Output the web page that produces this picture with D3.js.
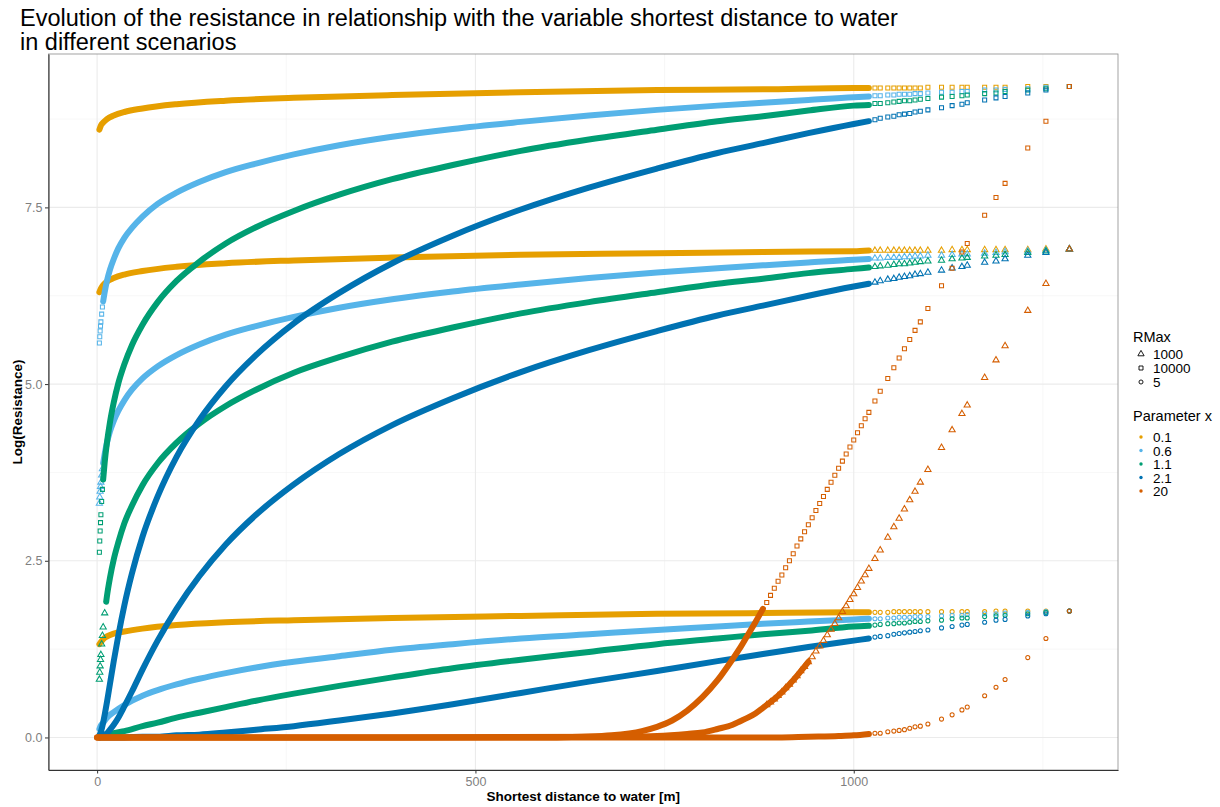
<!DOCTYPE html>
<html>
<head>
<meta charset="utf-8">
<script src="https://cdn.jsdelivr.net/npm/d3@7"></script>
<style>
  body { margin: 0; background: #ffffff; }
  text { font-family: "Liberation Sans", Arial, sans-serif; }
</style>
</head>
<body>
<svg id="chart" width="1220" height="807"></svg>
<script>
// ---- factor levels and tick labels ----
const rmaxLevels = ["1000", "10000", "5"];
const paramLevels = ["0.1", "0.6", "1.1", "2.1", "20"];
const paramColors = ["#E69F00", "#56B4E9", "#009E73", "#0072B2", "#D55E00"];
const xMajor = [0, 500, 1000];
const xMinor = [250, 750, 1250];
const yMajor = [0, 2.5, 5, 7.5];
const yMinor = [1.25, 3.75, 6.25, 8.75];

// Distances (m) where the measured points thin out into separate columns
const columnDist = [1028, 1035, 1045, 1053, 1060, 1067, 1074, 1081, 1088, 1098, 1116, 1130, 1143, 1150, 1173, 1188, 1200, 1230, 1254, 1285];
// Distances (m) along the steep rise of the x = 20 curves
const riseDist = [885, 890, 895, 900, 905, 910, 915, 920, 925, 930, 935, 940, 945, 950, 955, 960, 965, 970, 975, 980, 985, 990, 995, 1000, 1005, 1010, 1015, 1020];

// ---- dense runs of overlapping points: [distance, log(resistance)] ----
const band_1000_x01 = [[3,6.30],[5,6.35],[8,6.40],[13,6.45],[22,6.50],[36,6.55],[60,6.60],[105,6.66],[170,6.71],[260,6.75],[390,6.79],[560,6.83],[740,6.85],[880,6.87],[1000,6.88],[1020,6.89]];
const band_10000_x01 = [[3,8.60],[5,8.66],[8,8.70],[13,8.75],[22,8.80],[36,8.85],[60,8.90],[105,8.96],[170,9.01],[260,9.05],[390,9.09],[560,9.13],[740,9.16],[880,9.17],[1000,9.19],[1020,9.19]];
const band_5_x01 = [[3,1.32],[5,1.35],[8,1.39],[13,1.43],[22,1.47],[36,1.50],[60,1.54],[105,1.59],[170,1.63],[260,1.66],[390,1.69],[560,1.72],[740,1.75],[880,1.76],[1000,1.77],[1020,1.77]];

const band_1000_x06 = [[8,3.88],[10,4.01],[13,4.17],[17,4.33],[22,4.48],[28,4.62],[36,4.77],[46,4.92],[60,5.08],[80,5.25],[105,5.41],[135,5.56],[170,5.70],[210,5.82],[260,5.95],[320,6.08],[390,6.20],[470,6.31],[560,6.41],[650,6.50],[740,6.58],[820,6.64],[880,6.68],[940,6.72],[1000,6.76],[1020,6.77]];
const band_10000_x06 = [[8,6.17],[10,6.30],[13,6.46],[17,6.62],[22,6.77],[28,6.92],[36,7.07],[46,7.21],[60,7.37],[80,7.55],[105,7.71],[135,7.86],[170,8.00],[210,8.12],[260,8.25],[320,8.38],[390,8.50],[470,8.61],[560,8.71],[650,8.80],[740,8.88],[820,8.94],[880,8.98],[940,9.02],[1000,9.06],[1020,9.07]];
const band_5_x06 = [[3,0.12],[5,0.17],[8,0.21],[13,0.28],[22,0.36],[36,0.46],[60,0.59],[80,0.67],[105,0.75],[135,0.83],[170,0.91],[210,0.99],[260,1.07],[320,1.15],[390,1.24],[470,1.32],[560,1.40],[650,1.46],[740,1.52],[820,1.57],[880,1.61],[940,1.64],[1000,1.67],[1020,1.68]];

const band_1000_x11 = [[12,1.92],[13,2.00],[17,2.26],[22,2.52],[28,2.76],[36,3.03],[46,3.28],[60,3.57],[80,3.88],[105,4.17],[135,4.44],[170,4.69],[210,4.92],[260,5.16],[320,5.38],[390,5.60],[470,5.80],[560,6.00],[650,6.16],[740,6.30],[820,6.42],[880,6.49],[940,6.57],[1000,6.63],[1020,6.65]];
const band_10000_x11 = [[8,3.65],[10,3.89],[13,4.17],[17,4.46],[22,4.74],[28,5.01],[36,5.28],[46,5.55],[60,5.84],[80,6.16],[105,6.46],[135,6.73],[170,6.99],[210,7.22],[260,7.45],[320,7.68],[390,7.90],[470,8.10],[560,8.30],[650,8.46],[740,8.60],[820,8.72],[880,8.79],[940,8.87],[1000,8.94],[1020,8.95]];
const band_5_x11 = [[3,0.01],[8,0.02],[13,0.03],[22,0.06],[36,0.09],[60,0.16],[80,0.21],[105,0.28],[135,0.35],[170,0.43],[210,0.52],[260,0.62],[320,0.73],[390,0.85],[470,0.98],[560,1.10],[650,1.21],[740,1.32],[820,1.40],[880,1.46],[940,1.51],[1000,1.57],[1020,1.58]];

const band_1000_x21 = [[3,0.00],[5,0.01],[8,0.02],[10,0.04],[13,0.06],[17,0.11],[22,0.18],[28,0.28],[36,0.44],[46,0.65],[60,0.96],[80,1.37],[105,1.82],[135,2.28],[170,2.73],[210,3.15],[260,3.58],[320,4.01],[390,4.42],[470,4.80],[560,5.17],[650,5.48],[740,5.75],[820,5.97],[880,6.11],[940,6.25],[1000,6.38],[1020,6.42]];
const band_10000_x21 = [[3,0.03],[5,0.08],[8,0.21],[10,0.32],[13,0.50],[17,0.76],[22,1.08],[28,1.44],[36,1.87],[46,2.32],[60,2.84],[80,3.41],[105,3.97],[135,4.49],[170,4.97],[210,5.41],[260,5.86],[320,6.29],[390,6.71],[470,7.10],[560,7.47],[650,7.78],[740,8.05],[820,8.27],[880,8.41],[940,8.55],[1000,8.68],[1020,8.72]];
const band_5_x21 = [[3,0.00],[36,0.00],[60,0.01],[80,0.01],[105,0.03],[135,0.04],[170,0.07],[210,0.11],[260,0.16],[320,0.24],[390,0.34],[470,0.47],[560,0.63],[650,0.79],[740,0.94],[820,1.08],[880,1.18],[940,1.28],[1000,1.37],[1020,1.40]];

const band_1000_x20 = [[0,0],[400,0],[700,0.01],[740,0.02],[780,0.05],[800,0.07],[820,0.12],[840,0.18],[850,0.23],[860,0.28],[870,0.34],[880,0.42],[900,0.59],[920,0.81],[940,1.07]];
const band_10000_x20 = [[0,0],[400,0],[600,0],[640,0.01],[680,0.03],[720,0.09],[740,0.15],[760,0.24],[780,0.38],[800,0.57],[820,0.81],[840,1.11],[850,1.27],[860,1.45],[870,1.63],[880,1.82]];
const band_5_x20 = [[0,0],[400,0],[800,0],[900,0],[940,0.01],[980,0.02],[1000,0.03],[1020,0.05]];

// ---- isolated points close to the water: [distance, log(resistance)] ----
const lead_10000_x06 = [[3,5.58],[3.5,5.67],[4,5.75],[4.5,5.82],[5,5.88],[6,5.99],[7,6.09]];
const lead_1000_x06 = [[3,3.31],[3.5,3.40],[4,3.48],[4.5,3.55],[5,3.61],[6,3.71],[7,3.80]];
const lead_10000_x11 = [[3,2.62],[3.5,2.78],[4,2.92],[4.5,3.04],[5,3.15],[6,3.34],[7,3.51]];
const lead_1000_x11 = [[3,0.82],[3.5,0.92],[4,1.01],[4.5,1.10],[5,1.17],[6,1.32],[7,1.44],[8,1.56],[10,1.76]];

// ---- log(resistance) at columnDist ----
const col_1000_x01 = [6.89,6.89,6.89,6.89,6.89,6.89,6.89,6.89,6.89,6.89,6.89,6.90,6.90,6.90,6.90,6.90,6.90,6.90,6.91,6.91];
const col_10000_x01 = [9.19,9.19,9.19,9.19,9.19,9.19,9.19,9.19,9.19,9.20,9.20,9.20,9.20,9.20,9.20,9.20,9.20,9.21,9.21,9.21];
const col_5_x01 = [1.77,1.77,1.77,1.78,1.78,1.78,1.78,1.78,1.78,1.78,1.78,1.78,1.78,1.78,1.78,1.79,1.79,1.79,1.79,1.79];
const col_1000_x06 = [6.78,6.78,6.79,6.79,6.79,6.80,6.80,6.81,6.81,6.82,6.82,6.83,6.84,6.84,6.85,6.86,6.87,6.88,6.89,6.91];
const col_10000_x06 = [9.08,9.08,9.09,9.09,9.10,9.10,9.10,9.11,9.11,9.12,9.13,9.13,9.14,9.14,9.16,9.16,9.17,9.18,9.20,9.21];
const col_5_x06 = [1.68,1.68,1.69,1.69,1.70,1.70,1.70,1.71,1.71,1.71,1.72,1.73,1.73,1.74,1.75,1.75,1.76,1.77,1.78,1.79];
const col_1000_x11 = [6.66,6.67,6.68,6.69,6.70,6.70,6.71,6.72,6.73,6.74,6.75,6.77,6.78,6.79,6.81,6.82,6.83,6.86,6.88,6.91];
const col_10000_x11 = [8.97,8.97,8.98,8.99,9.00,9.01,9.01,9.02,9.03,9.04,9.06,9.07,9.08,9.09,9.11,9.12,9.14,9.16,9.18,9.21];
const col_5_x11 = [1.59,1.60,1.61,1.61,1.62,1.62,1.63,1.64,1.64,1.65,1.66,1.68,1.69,1.69,1.71,1.72,1.73,1.75,1.77,1.79];
const col_1000_x21 = [6.44,6.46,6.48,6.49,6.51,6.52,6.53,6.55,6.56,6.58,6.61,6.64,6.66,6.68,6.72,6.74,6.77,6.82,6.86,6.91];
const col_10000_x21 = [8.74,8.76,8.78,8.79,8.81,8.82,8.83,8.85,8.86,8.88,8.91,8.94,8.96,8.98,9.02,9.05,9.07,9.12,9.16,9.21];
const col_5_x21 = [1.42,1.43,1.44,1.46,1.47,1.48,1.49,1.50,1.51,1.52,1.55,1.57,1.59,1.60,1.63,1.66,1.67,1.72,1.75,1.79];
const col_1000_x20 = [2.53,2.65,2.83,2.98,3.10,3.23,3.36,3.48,3.61,3.79,4.10,4.35,4.58,4.70,5.09,5.34,5.54,6.04,6.42,6.91];
const col_10000_x20 = [4.76,4.90,5.08,5.23,5.37,5.50,5.63,5.76,5.88,6.07,6.39,6.64,6.87,6.99,7.39,7.64,7.84,8.34,8.72,9.21];
const col_5_x20 = [0.06,0.06,0.08,0.09,0.10,0.11,0.13,0.15,0.16,0.19,0.26,0.32,0.39,0.43,0.59,0.71,0.82,1.13,1.40,1.79];

// ---- log(resistance) at riseDist ----
const rise_1000_x20 = [0.46,0.50,0.54,0.59,0.64,0.70,0.75,0.81,0.87,0.94,1.00,1.07,1.14,1.22,1.29,1.37,1.45,1.53,1.61,1.69,1.78,1.86,1.95,2.03,2.12,2.21,2.30,2.39];
const rise_10000_x20 = [1.91,2.01,2.11,2.21,2.30,2.40,2.50,2.60,2.71,2.81,2.91,3.01,3.11,3.21,3.31,3.41,3.51,3.61,3.71,3.81,3.91,4.01,4.11,4.21,4.31,4.41,4.51,4.60];

// scenario table, drawn in this order (later ones on top)
const scenarios = [
  { x: "0.1", rmax: "1000",  band: band_1000_x01,  col: col_1000_x01 },
  { x: "0.1", rmax: "10000", band: band_10000_x01, col: col_10000_x01 },
  { x: "0.1", rmax: "5",     band: band_5_x01,     col: col_5_x01 },
  { x: "0.6", rmax: "1000",  band: band_1000_x06,  col: col_1000_x06, lead: lead_1000_x06 },
  { x: "0.6", rmax: "10000", band: band_10000_x06, col: col_10000_x06, lead: lead_10000_x06 },
  { x: "0.6", rmax: "5",     band: band_5_x06,     col: col_5_x06 },
  { x: "1.1", rmax: "1000",  band: band_1000_x11,  col: col_1000_x11, lead: lead_1000_x11 },
  { x: "1.1", rmax: "10000", band: band_10000_x11, col: col_10000_x11, lead: lead_10000_x11 },
  { x: "1.1", rmax: "5",     band: band_5_x11,     col: col_5_x11 },
  { x: "2.1", rmax: "1000",  band: band_1000_x21,  col: col_1000_x21 },
  { x: "2.1", rmax: "10000", band: band_10000_x21, col: col_10000_x21 },
  { x: "2.1", rmax: "5",     band: band_5_x21,     col: col_5_x21 },
  { x: "20",  rmax: "1000",  band: band_1000_x20,  col: col_1000_x20, rise: rise_1000_x20 },
  { x: "20",  rmax: "10000", band: band_10000_x20, col: col_10000_x20, rise: rise_10000_x20 },
  { x: "20",  rmax: "5",     band: band_5_x20,     col: col_5_x20 }
];

// ---- layout ----
const W = 1220, H = 807;
const panel = { left: 48.5, right: 1118, top: 54, bottom: 770 };

const svg = d3.select("#chart");
svg.append("rect").attr("width", W).attr("height", H).attr("fill", "#ffffff");

// data extents with 5% padding on each side
const allD = columnDist.concat([0]);
const allV = [0].concat(...scenarios.map(s => s.col));
const dExt = d3.extent(allD), vExt = d3.extent(allV);
const dPad = (dExt[1] - dExt[0]) * 0.05, vPad = (vExt[1] - vExt[0]) * 0.05;

const x = d3.scaleLinear().domain([dExt[0] - dPad, dExt[1] + dPad]).range([panel.left, panel.right]);
const y = d3.scaleLinear().domain([vExt[0] - vPad, vExt[1] + vPad]).range([panel.bottom, panel.top]);

const color = d3.scaleOrdinal().domain(paramLevels).range(paramColors);
const shape = d3.scaleOrdinal().domain(rmaxLevels).range([d3.symbolTriangle, d3.symbolSquare, d3.symbolCircle]);
const shapeSize = d3.scaleOrdinal().domain(rmaxLevels).range([17, 16, 13]);

// ---- grid ----
const grid = svg.append("g");
grid.selectAll("line.xmin").data(xMinor).join("line")
  .attr("x1", d => x(d)).attr("x2", d => x(d)).attr("y1", panel.top).attr("y2", panel.bottom)
  .attr("stroke", "#f1f1f1").attr("stroke-width", 0.6);
grid.selectAll("line.ymin").data(yMinor).join("line")
  .attr("x1", panel.left).attr("x2", panel.right).attr("y1", d => y(d)).attr("y2", d => y(d))
  .attr("stroke", "#f1f1f1").attr("stroke-width", 0.6);
grid.selectAll("line.xmaj").data(xMajor).join("line")
  .attr("x1", d => x(d)).attr("x2", d => x(d)).attr("y1", panel.top).attr("y2", panel.bottom)
  .attr("stroke", "#ebebeb").attr("stroke-width", 1.1);
grid.selectAll("line.ymaj").data(yMajor).join("line")
  .attr("x1", panel.left).attr("x2", panel.right).attr("y1", d => y(d)).attr("y2", d => y(d))
  .attr("stroke", "#ebebeb").attr("stroke-width", 1.1);

// ---- points ----
svg.append("clipPath").attr("id", "panelClip").append("rect")
  .attr("x", panel.left).attr("y", panel.top)
  .attr("width", panel.right - panel.left).attr("height", panel.bottom - panel.top);

const marks = svg.append("g").attr("clip-path", "url(#panelClip)");
const bandLine = d3.line().x(d => x(d[0])).y(d => y(d[1])).curve(d3.curveMonotoneX);

scenarios.forEach(s => {
  const g = marks.append("g");
  const c = color(s.x);
  g.append("path").datum(s.band)
    .attr("d", bandLine)
    .attr("fill", "none").attr("stroke", c)
    .attr("stroke-width", 6).attr("stroke-linecap", "round").attr("stroke-linejoin", "round");

  let pts = [];
  if (s.lead) pts = pts.concat(s.lead);
  if (s.rise) pts = pts.concat(riseDist.map((d, i) => [d, s.rise[i]]));
  pts = pts.concat(columnDist.map((d, i) => [d, s.col[i]]));

  const sym = d3.symbol().type(shape(s.rmax)).size(shapeSize(s.rmax));
  g.selectAll("path.pt").data(pts).join("path")
    .attr("class", "pt")
    .attr("transform", d => `translate(${x(d[0])},${y(d[1])})`)
    .attr("d", sym)
    .attr("fill", "none").attr("stroke", c).attr("stroke-width", 1.05);
});

// ---- panel border and axes ----
svg.append("rect")
  .attr("x", panel.left).attr("y", panel.top)
  .attr("width", panel.right - panel.left).attr("height", panel.bottom - panel.top)
  .attr("fill", "none").attr("stroke", "#8c8c8c").attr("stroke-width", 0.8);

const xAxis = d3.axisBottom(x).tickValues(xMajor).tickFormat(d3.format("d"))
  .tickSize(3.5).tickSizeOuter(0).tickPadding(4);
const yAxis = d3.axisLeft(y).tickValues(yMajor).tickFormat(d3.format(".1f"))
  .tickSize(3.5).tickSizeOuter(0).tickPadding(2.5);

const gx = svg.append("g").attr("transform", `translate(0,${panel.bottom})`).call(xAxis);
const gy = svg.append("g").attr("transform", `translate(${panel.left},0)`).call(yAxis);
[gx, gy].forEach(g => {
  g.select(".domain").attr("stroke", "#333333").attr("stroke-width", 1.1);
  g.selectAll(".tick line").attr("stroke", "#333333").attr("stroke-width", 1);
  g.selectAll(".tick text").attr("fill", "#7f7f7f").attr("font-size", 12.5)
    .attr("font-family", '"Liberation Sans", Arial, sans-serif');
});

// ---- titles ----
const title = svg.append("text").attr("x", 20).attr("font-size", 23.5).attr("fill", "#000");
title.append("tspan").attr("x", 20).attr("y", 26)
  .text("Evolution of the resistance in relationship with the variable shortest distance to water");
title.append("tspan").attr("x", 20).attr("y", 49.5)
  .text("in different scenarios");

svg.append("text")
  .attr("x", (panel.left + panel.right) / 2).attr("y", 801)
  .attr("text-anchor", "middle").attr("font-size", 13.5).attr("font-weight", "bold")
  .text("Shortest distance to water [m]");
svg.append("text")
  .attr("transform", `translate(22,${(panel.top + panel.bottom) / 2}) rotate(-90)`)
  .attr("text-anchor", "middle").attr("font-size", 13.5).attr("font-weight", "bold")
  .text("Log(Resistance)");

// ---- legends ----
const legX = 1133;
const leg1 = svg.append("g");
leg1.append("text").attr("x", legX).attr("y", 342).attr("font-size", 14.5).text("RMax");
rmaxLevels.forEach((r, i) => {
  const cy = 354 + i * 14;
  leg1.append("path")
    .attr("transform", `translate(${legX + 8},${cy})`)
    .attr("d", d3.symbol().type(shape(r)).size(shapeSize(r))())
    .attr("fill", "none").attr("stroke", "#000").attr("stroke-width", 0.9);
  leg1.append("text").attr("x", legX + 20).attr("y", cy + 5).attr("font-size", 13.5).text(r);
});

const leg2 = svg.append("g");
leg2.append("text").attr("x", legX).attr("y", 421).attr("font-size", 14.5).text("Parameter x");
paramLevels.forEach((p, i) => {
  const cy = 437 + i * 13.5;
  leg2.append("circle").attr("cx", legX + 8).attr("cy", cy).attr("r", 1.7).attr("fill", color(p));
  leg2.append("text").attr("x", legX + 20).attr("y", cy + 5).attr("font-size", 13.5).text(p);
});
</script>
</body>
</html>
